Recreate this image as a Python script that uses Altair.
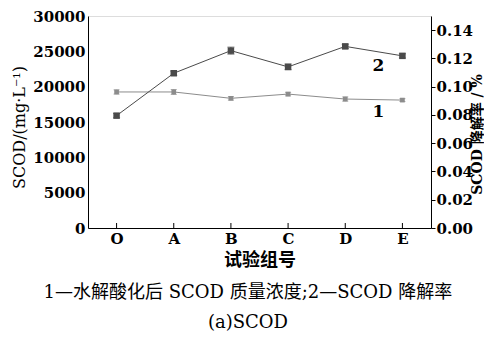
import altair as alt
import pandas as pd

groups = ["O", "A", "B", "C", "D", "E"]
scod_conc = [19250, 19250, 18350, 18950, 18250, 18100]
scod_conc_err = [300, 350, 250, 250, 300, 200]
scod_rate = [0.0795, 0.1095, 0.1255, 0.1140, 0.1285, 0.1218]
scod_rate_err = [0.0015, 0.0015, 0.0025, 0.0020, 0.0015, 0.0015]

label_text = ["1", "2"]
label_group = ["E", "E"]
label_conc = [16400, None]
label_rate = [None, 0.1146]

left_ticks = [0, 5000, 10000, 15000, 20000, 25000, 30000]
right_ticks = [0, 0.02, 0.04, 0.06, 0.08, 0.10, 0.12, 0.14]

caption1 = "1—水解酸化后 SCOD 质量浓度;2—SCOD 降解率"
caption2 = "(a)SCOD"

df = pd.DataFrame({
    "group": groups,
    "conc": scod_conc,
    "conc_lo": [v - e for v, e in zip(scod_conc, scod_conc_err)],
    "conc_hi": [v + e for v, e in zip(scod_conc, scod_conc_err)],
    "rate": scod_rate,
    "rate_lo": [v - e for v, e in zip(scod_rate, scod_rate_err)],
    "rate_hi": [v + e for v, e in zip(scod_rate, scod_rate_err)],
})
lab1 = pd.DataFrame({"group": [label_group[0]], "txt": [label_text[0]], "conc": [label_conc[0]]})
lab2 = pd.DataFrame({"group": [label_group[1]], "txt": [label_text[1]], "rate": [label_rate[1]]})

LATIN = "DejaVu Serif"
MIXED = "'DejaVu Serif', 'Noto Sans CJK SC'"
W, H = 343, 212

x_enc = alt.X(
    "group:N",
    sort=groups,
    scale=alt.Scale(type="point", padding=0.5, domain=groups),
    axis=alt.Axis(
        title="试验组号", labelAngle=0, ticks=False, labelPadding=3,
        labelFont=LATIN, labelFontSize=15, labelFontWeight="bold", labelColor="black",
        titleFont=MIXED, titleFontSize=18, titleFontWeight="bold", titleColor="black",
        titlePadding=5, domainColor="black", grid=False,
    ),
)

left_axis = alt.Axis(
    values=left_ticks, format="d", title="SCOD/(mg·L⁻¹)", ticks=False, grid=False,
    labelFont=LATIN, labelFontSize=15, labelFontWeight="bold", labelColor="black",
    labelPadding=3, titleFont=LATIN, titleFontSize=16, titleFontWeight="normal",
    titleColor="black", titlePadding=5, titleY=111, domainColor="black",
)
right_axis = alt.Axis(
    values=right_ticks, format=".2f", orient="right", title="SCOD 降解率 / %",
    grid=False, tickSize=4, tickColor="black",
    labelFont=LATIN, labelFontSize=15, labelFontWeight="bold", labelColor="black",
    labelPadding=1, titleFont=MIXED, titleFontSize=14, titleFontWeight="bold",
    titleColor="black", titleAngle=270, titleBaseline="middle", titleAlign="center",
    titleX=46, titleY=118, domainColor="black",
)


def yl(field):
    return alt.Y(f"{field}:Q", scale=alt.Scale(domain=[0, 30000]), axis=left_axis)


def yr(field):
    return alt.Y(f"{field}:Q", scale=alt.Scale(domain=[0, 0.15]), axis=right_axis)


base = alt.Chart(df)
c1 = "#8c8c8c"
c2 = "#4a4a4a"

left = alt.layer(
    base.mark_rule(color="black", strokeWidth=1).encode(
        x=x_enc, y=alt.value(H), y2=alt.value(H - 5)),
    base.mark_line(color=c1, strokeWidth=1).encode(x=x_enc, y=yl("conc")),
    base.mark_rule(color=c1, strokeWidth=1).encode(x=x_enc, y=yl("conc_lo"), y2="conc_hi:Q"),
    base.mark_tick(color=c1, size=6, thickness=1).encode(x=x_enc, y=yl("conc_lo")),
    base.mark_tick(color=c1, size=6, thickness=1).encode(x=x_enc, y=yl("conc_hi")),
    base.mark_point(shape="square", filled=True, size=22, color=c1, opacity=1).encode(
        x=x_enc, y=yl("conc")),
    alt.Chart(lab1).mark_text(font=LATIN, fontSize=17, fontWeight="bold", dx=-24,
                              color="black").encode(x=x_enc, y=yl("conc"), text="txt:N"),
)

right = alt.layer(
    base.mark_line(color=c2, strokeWidth=1).encode(x=x_enc, y=yr("rate")),
    base.mark_rule(color=c2, strokeWidth=1).encode(x=x_enc, y=yr("rate_lo"), y2="rate_hi:Q"),
    base.mark_tick(color=c2, size=7, thickness=1).encode(x=x_enc, y=yr("rate_lo")),
    base.mark_tick(color=c2, size=7, thickness=1).encode(x=x_enc, y=yr("rate_hi")),
    base.mark_point(shape="square", filled=True, size=42, color=c2, opacity=1).encode(
        x=x_enc, y=yr("rate")),
    alt.Chart(lab2).mark_text(font=LATIN, fontSize=17, fontWeight="bold", dx=-24,
                              color="black").encode(x=x_enc, y=yr("rate"), text="txt:N"),
)

chart = alt.layer(left, right).resolve_scale(y="independent").properties(
    width=W, height=H,
    autosize=alt.AutoSizeParams(type="none"),
    padding={"left": 80, "top": 8, "right": 53, "bottom": 104},
    title=alt.TitleParams(
        text=[caption1, caption2], orient="bottom", anchor="middle", frame="bounds",
        font=MIXED, fontSize=18, fontWeight="normal", color="black", lineHeight=30,
        offset=15,
    ),
).configure_view(stroke="black", strokeWidth=1).configure(background="white")

chart.save("out.html", embed_options={"renderer": "svg", "actions": False})
